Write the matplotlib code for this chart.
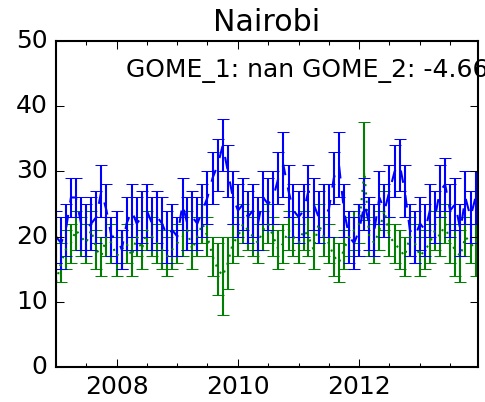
import matplotlib
matplotlib.use('Agg')
import matplotlib.pyplot as plt
import matplotlib.dates as mdates
import pandas as pd
import datetime as dt

plt.style.use('classic')

months = pd.date_range('2007-01-01', periods=84, freq='MS')

blue_vals = [20, 19, 21, 26, 26, 22, 21, 22, 23, 27, 24, 20,
             20, 18, 22, 24, 22, 23, 24, 22, 23, 22, 20, 21,
             20, 25, 22, 23, 22, 24, 26, 29, 31, 34, 30, 26,
             24, 25, 23, 24, 22, 26, 25, 26, 29, 31, 27, 24,
             23, 24, 27, 25, 23, 24, 24, 29, 31, 24, 20, 19,
             21, 25, 22, 21, 26, 24, 27, 30, 31, 27, 21, 20,
             22, 21, 24, 23, 27, 28, 24, 25, 21, 26, 23, 26]
blue_err = [4, 4, 4, 3, 3, 4, 4, 4, 4, 4, 4, 3,
            4, 3, 4, 4, 4, 4, 4, 4, 4, 4, 4, 4,
            3, 4, 4, 4, 4, 4, 4, 4, 4, 4, 4, 4,
            4, 4, 4, 4, 4, 4, 4, 4, 4, 5, 4, 4,
            4, 4, 4, 4, 4, 4, 4, 4, 5, 4, 4, 4,
            4, 4, 4, 4, 4, 4, 4, 4, 4, 4, 4, 4,
            4, 4, 4, 4, 4, 4, 4, 4, 4, 4, 4, 4]

green_vals = [13, 16, 18, 19, 21, 20, 19, 21, 18, 17, 20, 19,
              17, 18, 19, 17, 20, 18, 21, 20, 19, 18, 17, 18,
              19, 20, 21, 18, 20, 22, 20, 17, 15, 14, 16, 19,
              20, 22, 21, 20, 19, 21, 22, 20, 18, 19, 21, 20,
              19, 21, 20, 18, 22, 20, 19, 17, 16, 18, 20, 21,
              22, 30, 20, 19, 21, 24, 20, 19, 18, 17, 20, 19,
              17, 18, 19, 21, 20, 22, 19, 18, 17, 20, 19, 18]
green_err = [3, 3, 3, 3, 3, 3, 3, 3, 3, 3, 3, 3,
             3, 3, 3, 3, 3, 3, 3, 3, 3, 3, 3, 3,
             3, 3, 3, 3, 3, 3, 3, 3, 4, 6, 4, 3,
             3, 3, 3, 3, 3, 3, 3, 3, 3, 3, 3, 3,
             3, 3, 3, 3, 3, 3, 3, 3, 3, 3, 3, 3,
             3, 7.5, 3, 3, 3, 3, 3, 3, 3, 3, 3, 3,
             3, 3, 3, 3, 3, 3, 3, 4, 4, 3, 3, 4]

title = 'Nairobi'
annot = 'GOME_1: nan GOME_2: -4.66'
xlabel = 'Date (monthly)'

fig = plt.figure(figsize=(485/150, 402/150), dpi=150)
ax = fig.add_axes([56/485, 35/402, 422/485, 326/402])

ax.errorbar(months, green_vals, yerr=green_err, fmt='g:')
ax.errorbar(months, blue_vals, yerr=blue_err, fmt='b--')

ax.set_xlim(dt.date(2007, 1, 1), dt.date(2013, 12, 16))
ax.set_ylim(0, 50)
ax.set_yticks([0, 10, 20, 30, 40, 50])
ax.xaxis.set_major_locator(mdates.YearLocator(2))
ax.xaxis.set_major_formatter(mdates.DateFormatter('%Y'))
ax.xaxis.set_minor_locator(mdates.MonthLocator([1, 7]))

ax.set_title(title)
ax.set_xlabel(xlabel)
ax.text(0.165, 0.89, annot, transform=ax.transAxes, ha='left', va='baseline')

fig.savefig('out.png', dpi=150, facecolor='white')
